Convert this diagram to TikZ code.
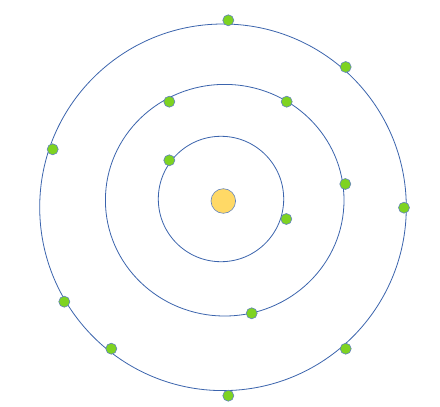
\documentclass[tikz,border=0pt]{standalone}
\definecolor{orbit}{HTML}{3B64AD}
\definecolor{egreen}{HTML}{7ED321}
\definecolor{nyellow}{HTML}{FFD966}
\begin{document}
\begin{tikzpicture}[x=1pt,y=-1pt,
  orbitline/.style={draw=orbit,line width=0.8pt},
  electron/.style={circle,draw=orbit!80,fill=egreen,line width=0.6pt,minimum size=11pt,inner sep=0pt},
  nucleus/.style={circle,draw=orbit!80,fill=nyellow,line width=0.6pt,minimum size=24.6pt,inner sep=0pt}]
\useasboundingbox[fill=white] (0,0) rectangle (440,407);
% orbits
\draw[orbitline] (221,199) ellipse [x radius=62.7, y radius=62.7];
\draw[orbitline] (224.7,200.2) ellipse [x radius=119.3, y radius=115.8];
\draw[orbitline] (223,207.3) ellipse [x radius=183.3, y radius=183.3];
% nucleus
\node[nucleus] (n) at (223.3,201) {};
% inner electrons
\node[electron] (i1) at (169.3,160.3) {};
\node[electron] (i2) at (286.3,219) {};
% middle electrons
\node[electron] (m1) at (169.3,101.7) {};
\node[electron] (m2) at (286.7,101.7) {};
\node[electron] (m3) at (345.3,184) {};
\node[electron] (m4) at (251.7,313.3) {};
% outer electrons
\node[electron] (o1) at (228.3,20.3) {};
\node[electron] (o2) at (345.7,67) {};
\node[electron] (o3) at (52.7,149.3) {};
\node[electron] (o4) at (404,207.7) {};
\node[electron] (o5) at (64.3,301.7) {};
\node[electron] (o6) at (111.3,348.7) {};
\node[electron] (o7) at (345.7,348.7) {};
\node[electron] (o8) at (228.3,395.7) {};
\end{tikzpicture}
\end{document}
